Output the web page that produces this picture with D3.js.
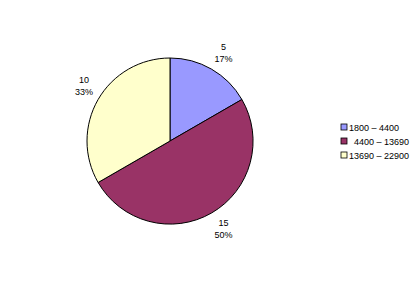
<!DOCTYPE html>
<html>
<head>
<meta charset="utf-8">
<script src="https://cdn.jsdelivr.net/npm/d3@7"></script>
<style>
  body { margin: 0; background: #fff; }
  text { font-family: "Liberation Sans", Arial, sans-serif; font-size: 9px; fill: #000; }
</style>
</head>
<body>
<div id="root"></div>
<script>
// data
var categories = ["1800 \u2013 4400", "  4400 \u2013 13690", "13690 \u2013 22900"];
var values = [5, 15, 10];
var colors = ["#9999FF", "#993366", "#FFFFCC"];

var width = 415, height = 284,
    cx = 170, cy = 141, radius = 83,
    labelDist = 89;

var svg = d3.select("#root").append("svg")
    .attr("width", width)
    .attr("height", height);

var total = d3.sum(values);

var pie = d3.pie().sort(null).value(function (d) { return d; });
var arcs = pie(values);

var arc = d3.arc().innerRadius(0).outerRadius(radius);

var g = svg.append("g").attr("transform", "translate(" + cx + "," + cy + ")");

g.selectAll(".slice")
    .data(arcs)
    .enter()
    .append("path")
    .classed("slice", true)
    .attr("d", arc)
    .style("fill", function (d, i) { return colors[i]; })
    .style("stroke", "#000")
    .style("stroke-width", 1);

// value + percent labels: the corner of the label box nearest the pie sits
// just outside the pie on the slice's mid angle (like excel does it)
var labels = g.selectAll(".label")
    .data(arcs)
    .enter()
    .append("text")
    .classed("label", true)
    .attr("text-anchor", "middle");

labels.append("tspan")
    .attr("x", 0)
    .attr("y", 0)
    .text(function (d) { return d.value; });

labels.append("tspan")
    .attr("x", 0)
    .attr("dy", 12)
    .text(function (d) { return Math.round(d.value / total * 100) + "%"; });

labels.attr("transform", function (d) {
    var bb = this.getBBox(),
        mid = (d.startAngle + d.endAngle) / 2,
        ax = Math.sin(mid) * labelDist,
        ay = -Math.cos(mid) * labelDist;
    var x = ax + (Math.sin(mid) >= 0 ? bb.width / 2 : -bb.width / 2);
    var y = -Math.cos(mid) > 0 ? ay - bb.y : ay - (bb.y + bb.height);
    return "translate(" + x + "," + y + ")";
});

// legend
var legend = svg.append("g").attr("transform", "translate(341,124)");
var rows = legend.selectAll(".row")
    .data(categories)
    .enter()
    .append("g")
    .classed("row", true)
    .attr("transform", function (d, i) { return "translate(0," + (i * 14) + ")"; });

rows.append("rect")
    .attr("width", 6)
    .attr("height", 6)
    .style("fill", function (d, i) { return colors[i]; })
    .style("stroke", "#000")
    .style("stroke-width", 0.8);

rows.append("text")
    .attr("x", 8)
    .attr("y", 6.5)
    .attr("xml:space", "preserve")
    .style("white-space", "pre")
    .text(function (d) { return d; });
</script>
</body>
</html>
